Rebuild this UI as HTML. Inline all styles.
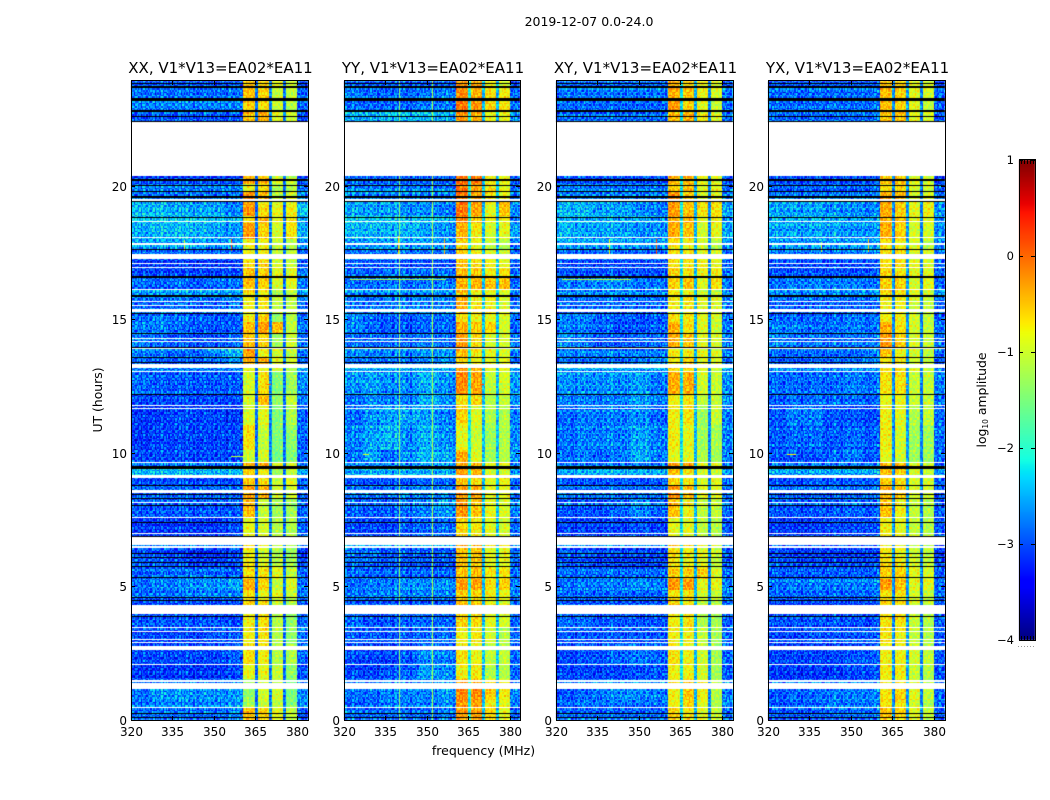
<!DOCTYPE html>
<html lang="en">
<head>
<meta charset="utf-8">
<title>2019-12-07 amplitude waterfall</title>
<style>
html,body{margin:0;padding:0;background:#fff;width:1050px;height:800px;overflow:hidden}
#figure{position:relative;width:1050px;height:800px;font-family:"DejaVu Sans","Liberation Sans",sans-serif;color:#000}
canvas{position:absolute;left:0;top:0}
svg{position:absolute;left:0;top:0}
svg text{font-family:"DejaVu Sans","Liberation Sans",sans-serif;fill:#000}
</style>
</head>
<body>
<div id="figure">
<canvas id="heat" width="1050" height="800"></canvas>
<svg id="axes" width="1050" height="800" viewBox="0 0 1050 800">
<text x="589" y="26" font-size="12.5" text-anchor="middle">2019-12-07 0.0-24.0</text>
<text x="483.5" y="755" font-size="12.5" text-anchor="middle">frequency (MHz)</text>
<text transform="translate(102,400) rotate(-90)" font-size="12.4" text-anchor="middle">UT (hours)</text>
<text transform="translate(986,400) rotate(-90)" font-size="12.4" text-anchor="middle">log<tspan font-size="7.5" dy="2">10</tspan><tspan dy="-2"> amplitude</tspan></text>
</svg>
</div>
<script>
// ---- axis values -------------------------------------------------------
const xTicks = [320, 335, 350, 365, 380];
const yTicks = [0, 5, 10, 15, 20];
const colorbarTicks = [1, 0, -1, -2, -3, -4];
const panelTitles = ["XX, V1*V13=EA02*EA11", "YY, V1*V13=EA02*EA11", "XY, V1*V13=EA02*EA11", "YX, V1*V13=EA02*EA11"];

// ---- frequency blocks (MHz) and time rows (UT hours) ---------------------
const freqEdges = [320, 327, 333, 340, 347, 354, 360.5, 365, 366, 370, 371, 375, 376, 380, 384];
const timeEdges = [0,.43,.73,1.14,1.48,2.04,2.79,3.43,3.99,4.48,4.85,5.30,5.75,6.46,6.87,7.55,8.26,8.75,9.08,9.42,9.61,10.09,11.03,11.74,12.19,13.02,13.21,13.54,13.91,14.44,14.89,15.26,15.86,16.12,16.61,16.91,17.25,17.62,18.03,18.63,18.82,19.46,19.79,20.02,20.37,22.38,22.79,23.24,23.65,23.92];

// ---- log10 amplitude x10, one row per time row (bottom to top) ----------
// columns: six low-frequency blocks, then band1..band4 and the top block
const levelsXX = [
[-28,-28,-28,-28,-28,-27,-5,-6,-9,-11,-30],[-28,-27,-27,-27,-27,-26,-13,-11,-12,-15,-27],[-28,-26,-26,-26,-26,-26,-14,-10,-10,-15,-27],[-28,-27,-27,-27,-27,-27,-13,-10,-11,-15,-28],
[-31,-31,-31,-31,-31,-30,-9,-9,-11,-14,-30],[-30,-30,-30,-30,-30,-29,-7,-8,-12,-12,-29],[-30,-30,-30,-30,-29,-29,-8,-7,-12,-14,-28],[-29,-29,-29,-29,-29,-30,-8,-7,-12,-14,-29],
[-30,-30,-30,-30,-30,-30,-6,-7,-11,-12,-30],[-28,-28,-28,-27,-27,-27,-7,-9,-9,-11,-28],[-28,-27,-27,-26,-26,-25,-4,-6,-11,-9,-28],[-29,-28,-28,-28,-28,-29,-7,-7,-9,-11,-29],
[-29,-29,-30,-31,-31,-30,-8,-10,-12,-13,-31],[-27,-27,-27,-27,-27,-27,-7,-8,-11,-12,-28],[-31,-31,-31,-31,-31,-30,-9,-10,-12,-12,-29],[-29,-29,-29,-29,-29,-29,-5,-11,-13,-13,-29],
[-28,-28,-28,-28,-28,-28,-3,-4,-10,-10,-29],[-30,-30,-30,-30,-30,-30,-6,-7,-11,-9,-29],[-24,-24,-24,-24,-24,-24,-6,-8,-13,-11,-25],[-27,-27,-27,-27,-27,-27,-4,-3,-9,-9,-28],
[-30,-30,-30,-30,-30,-30,-11,-10,-16,-15,-29],[-31,-30,-30,-30,-30,-30,-7,-11,-15,-14,-29],[-31,-31,-30,-30,-30,-31,-10,-9,-15,-12,-29],[-30,-30,-30,-30,-30,-30,-10,-5,-14,-11,-28],
[-28,-29,-29,-29,-29,-29,-10,-7,-15,-13,-27],[-27,-27,-27,-27,-27,-27,-9,-9,-10,-12,-26],[-28,-29,-29,-29,-28,-26,-4,-4,-9,-10,-29],[-27,-27,-28,-28,-26,-24,-3,-8,-10,-11,-28],
[-27,-28,-29,-29,-29,-28,-5,-6,-13,-10,-28],[-27,-27,-28,-29,-29,-29,-5,-3,-5,-11,-28],[-28,-27,-28,-28,-29,-29,-8,-6,-14,-12,-29],[-28,-28,-27,-28,-28,-27,-8,-7,-11,-11,-28],
[-26,-26,-26,-26,-26,-26,-7,-9,-13,-12,-27],[-28,-29,-28,-29,-28,-28,-5,-6,-10,-9,-28],[-30,-30,-30,-30,-30,-30,-5,-6,-9,-9,-28],[-31,-31,-31,-31,-31,-31,-7,-6,-10,-11,-30],
[-28,-28,-28,-28,-28,-28,-8,-8,-11,-11,-29],[-25,-25,-25,-25,-26,-25,-8,-8,-11,-12,-27],[-25,-24,-24,-24,-25,-26,-3,-6,-10,-7,-25],[-23,-23,-23,-23,-23,-24,-7,-4,-9,-7,-26],
[-24,-24,-25,-25,-25,-27,-3,-7,-9,-8,-24],[-28,-28,-28,-28,-28,-28,-3,-5,-12,-10,-27],[-27,-27,-27,-27,-27,-27,-9,-7,-13,-12,-29],[-30,-30,-30,-30,-30,-30,-4,-5,-10,-11,-31],
[-30,-30,-30,-30,-30,-30,-30,-30,-30,-30,-30],[-29,-29,-29,-29,-29,-29,-5,-4,-9,-10,-30],[-27,-27,-27,-27,-27,-27,-6,-7,-11,-12,-29],[-28,-28,-28,-28,-28,-28,-5,-6,-11,-11,-29],[-29,-29,-29,-29,-29,-29,-5,-6,-9,-10,-31]];

const levelsYY = [
[-28,-28,-28,-28,-28,-27,-3,-3,-6,-9,-29],[-29,-28,-27,-27,-27,-26,-3,-3,-8,-9,-28],[-28,-28,-27,-27,-27,-26,-2,-2,-6,-8,-28],[-28,-28,-27,-27,-27,-26,-3,-3,-7,-9,-28],
[-30,-30,-29,-28,-25,-26,-8,-7,-12,-12,-29],[-30,-30,-30,-29,-26,-27,-7,-8,-11,-11,-29],[-29,-29,-29,-29,-28,-28,-8,-7,-10,-12,-29],[-28,-29,-29,-28,-28,-28,-6,-6,-9,-10,-29],
[-29,-29,-29,-29,-29,-29,-5,-5,-8,-9,-29],[-28,-27,-27,-27,-27,-27,-6,-6,-8,-9,-28],[-28,-27,-27,-26,-26,-26,-3,-3,-7,-6,-28],[-28,-28,-28,-28,-28,-28,-5,-4,-7,-7,-28],
[-28,-28,-29,-29,-29,-29,-5,-5,-9,-9,-29],[-26,-26,-26,-26,-26,-26,-4,-4,-8,-9,-27],[-30,-30,-30,-29,-28,-28,-6,-7,-9,-10,-29],[-29,-29,-29,-28,-27,-26,-3,-5,-9,-10,-28],
[-28,-28,-28,-27,-27,-27,-3,-3,-9,-9,-29],[-29,-29,-29,-29,-28,-28,-5,-6,-9,-8,-29],[-25,-24,-24,-24,-24,-24,-3,-4,-10,-10,-26],[-27,-27,-27,-27,-26,-26,-4,-4,-9,-9,-28],
[-28,-25,-28,-26,-24,-25,-4,-9,-13,-12,-27],[-27,-25,-24,-26,-24,-26,-9,-10,-13,-12,-27],[-28,-26,-25,-25,-25,-27,-6,-9,-12,-12,-28],[-28,-26,-27,-27,-24,-26,-7,-6,-12,-11,-27],
[-26,-25,-26,-26,-24,-26,-2,-3,-11,-10,-26],[-25,-25,-25,-25,-25,-25,-3,-4,-9,-9,-27],[-28,-28,-28,-28,-27,-26,-6,-8,-9,-9,-29],[-27,-27,-27,-27,-26,-26,-5,-7,-9,-10,-28],
[-28,-28,-28,-28,-27,-28,-3,-6,-10,-10,-28],[-27,-28,-29,-29,-28,-28,-4,-5,-6,-10,-29],[-27,-28,-29,-29,-28,-28,-7,-8,-9,-10,-29],[-28,-28,-27,-27,-27,-27,-4,-7,-8,-10,-29],
[-26,-26,-26,-26,-26,-26,-5,-8,-9,-10,-28],[-28,-28,-27,-28,-27,-27,-4,-4,-5,-5,-29],[-29,-29,-28,-28,-28,-28,-5,-5,-8,-7,-29],[-29,-29,-29,-30,-30,-30,-5,-6,-8,-9,-30],
[-27,-27,-27,-27,-27,-27,-5,-7,-9,-10,-28],[-26,-25,-25,-25,-25,-26,-6,-8,-11,-12,-28],[-24,-24,-24,-24,-25,-26,-4,-7,-10,-9,-26],[-23,-23,-23,-23,-23,-24,-2,-5,-8,-8,-28],
[-25,-25,-25,-26,-26,-27,-1,-3,-9,-5,-27],[-26,-26,-26,-26,-26,-26,-1,-3,-6,-8,-28],[-27,-27,-27,-27,-27,-27,-1,-3,-7,-9,-29],[-29,-29,-29,-29,-29,-29,-1,-1,-8,-9,-30],
[-30,-30,-30,-30,-30,-30,-30,-30,-30,-30,-30],[-25,-25,-24,-24,-24,-25,-3,-4,-9,-9,-27],[-28,-28,-28,-28,-27,-27,-1,-2,-6,-7,-28],[-27,-28,-28,-28,-27,-27,-2,-4,-7,-8,-29],[-29,-29,-29,-29,-29,-29,-3,-3,-8,-10,-31]];

const levelsXY = [
[-28,-28,-28,-28,-28,-28,-6,-7,-9,-11,-29],[-28,-27,-27,-27,-27,-27,-8,-6,-9,-12,-27],[-29,-28,-27,-26,-26,-27,-8,-5,-8,-12,-28],[-29,-28,-27,-27,-27,-27,-8,-6,-9,-13,-28],
[-30,-30,-30,-30,-29,-29,-8,-8,-10,-13,-30],[-30,-29,-29,-28,-27,-28,-7,-8,-10,-13,-29],[-29,-29,-29,-29,-29,-29,-8,-8,-11,-13,-29],[-28,-28,-29,-29,-29,-29,-8,-7,-12,-13,-30],
[-29,-29,-29,-29,-29,-29,-6,-7,-11,-12,-29],[-28,-28,-28,-28,-28,-28,-7,-7,-10,-11,-28],[-28,-27,-27,-27,-26,-27,-3,-3,-9,-9,-28],[-28,-28,-28,-28,-28,-28,-6,-6,-6,-10,-29],
[-29,-29,-30,-30,-30,-30,-7,-8,-9,-11,-30],[-27,-27,-27,-27,-27,-27,-6,-7,-10,-11,-28],[-30,-30,-30,-30,-29,-30,-9,-9,-11,-12,-30],[-29,-29,-29,-28,-26,-28,-5,-8,-11,-11,-29],
[-28,-28,-28,-28,-28,-28,-3,-5,-9,-10,-29],[-29,-29,-29,-29,-29,-29,-6,-7,-10,-9,-29],[-25,-24,-24,-24,-24,-24,-5,-7,-10,-11,-26],[-27,-27,-27,-27,-27,-27,-3,-3,-9,-9,-28],
[-28,-27,-28,-27,-24,-27,-9,-9,-12,-13,-28],[-28,-27,-27,-27,-25,-27,-8,-9,-13,-13,-28],[-28,-27,-27,-27,-26,-28,-8,-7,-13,-11,-28],[-27,-27,-27,-27,-25,-27,-8,-7,-11,-11,-27],
[-26,-26,-26,-26,-25,-27,-4,-4,-10,-11,-27],[-25,-25,-25,-25,-25,-25,-7,-7,-9,-11,-26],[-28,-28,-28,-28,-27,-26,-8,-6,-9,-10,-29],[-27,-27,-27,-27,-27,-27,-8,-8,-9,-10,-28],
[-26,-27,-29,-29,-28,-28,-4,-5,-9,-10,-28],[-27,-27,-28,-29,-29,-28,-4,-7,-9,-11,-28],[-27,-27,-28,-29,-29,-29,-7,-7,-9,-10,-29],[-28,-28,-28,-28,-28,-28,-8,-7,-9,-10,-28],
[-26,-26,-26,-26,-26,-26,-7,-8,-10,-11,-27],[-27,-27,-26,-26,-27,-27,-6,-5,-9,-7,-28],[-29,-29,-29,-29,-29,-29,-6,-7,-8,-8,-28],[-30,-30,-30,-30,-30,-30,-7,-7,-8,-9,-30],
[-28,-28,-28,-28,-28,-28,-7,-7,-9,-10,-29],[-25,-25,-25,-25,-25,-25,-7,-8,-10,-12,-27],[-24,-25,-25,-25,-26,-26,-4,-5,-10,-9,-26],[-24,-24,-24,-24,-24,-25,-4,-4,-9,-8,-27],
[-24,-24,-25,-25,-26,-27,-3,-5,-7,-7,-26],[-26,-26,-26,-26,-26,-26,-2,-5,-9,-9,-27],[-27,-27,-27,-27,-27,-27,-6,-5,-9,-9,-29],[-29,-29,-29,-29,-29,-29,-4,-4,-8,-9,-30],
[-30,-30,-30,-30,-30,-30,-30,-30,-30,-30,-30],[-28,-28,-28,-28,-28,-28,-5,-4,-8,-10,-29],[-28,-28,-28,-28,-28,-28,-3,-6,-9,-11,-29],[-27,-27,-27,-27,-27,-27,-4,-5,-8,-10,-28],[-28,-28,-28,-28,-28,-28,-4,-6,-8,-10,-30]];

const levelsYX = [
[-29,-29,-29,-28,-28,-28,-5,-6,-9,-11,-30],[-29,-28,-28,-27,-27,-27,-7,-7,-10,-12,-29],[-29,-28,-28,-27,-27,-27,-7,-6,-9,-11,-29],[-29,-28,-28,-28,-28,-28,-8,-7,-10,-12,-29],
[-31,-31,-31,-31,-30,-30,-8,-8,-11,-12,-31],[-30,-30,-30,-30,-29,-29,-8,-8,-10,-11,-30],[-30,-30,-29,-29,-29,-29,-7,-8,-11,-12,-30],[-29,-29,-29,-29,-29,-30,-7,-7,-11,-12,-30],
[-30,-30,-30,-30,-30,-30,-6,-7,-10,-11,-30],[-28,-28,-28,-28,-28,-28,-7,-7,-10,-11,-29],[-28,-27,-27,-27,-27,-27,-3,-5,-9,-9,-29],[-29,-29,-29,-29,-29,-29,-6,-6,-9,-10,-30],
[-29,-30,-30,-30,-30,-30,-7,-8,-10,-11,-31],[-27,-27,-27,-27,-27,-27,-7,-7,-10,-11,-29],[-31,-31,-31,-30,-30,-30,-8,-9,-11,-12,-30],[-29,-29,-29,-29,-28,-29,-5,-8,-11,-12,-30],
[-28,-28,-28,-28,-28,-28,-4,-5,-10,-10,-30],[-30,-30,-29,-29,-29,-29,-6,-7,-10,-10,-30],[-25,-25,-25,-25,-25,-25,-5,-6,-10,-11,-27],[-27,-27,-27,-27,-27,-27,-4,-4,-9,-10,-29],
[-29,-29,-29,-28,-27,-29,-9,-10,-13,-13,-29],[-29,-28,-28,-29,-28,-29,-8,-10,-13,-13,-29],[-29,-27,-27,-29,-29,-30,-8,-9,-12,-11,-29],[-29,-28,-28,-28,-28,-29,-9,-9,-11,-11,-29],
[-28,-28,-28,-28,-27,-28,-7,-7,-11,-11,-28],[-26,-26,-26,-26,-26,-26,-7,-7,-9,-11,-27],[-29,-29,-28,-28,-28,-27,-7,-7,-10,-11,-30],[-28,-28,-28,-28,-28,-27,-5,-8,-10,-11,-29],
[-27,-28,-28,-28,-28,-28,-3,-6,-10,-11,-29],[-27,-27,-28,-28,-27,-28,-4,-7,-10,-11,-29],[-28,-28,-28,-28,-27,-28,-8,-8,-10,-11,-30],[-28,-28,-28,-28,-28,-28,-8,-8,-10,-11,-29],
[-27,-27,-27,-27,-27,-27,-7,-8,-10,-11,-28],[-28,-27,-27,-27,-27,-28,-6,-6,-10,-9,-29],[-29,-29,-29,-29,-29,-29,-6,-7,-9,-9,-29],[-30,-30,-30,-30,-30,-30,-7,-7,-9,-10,-30],
[-28,-28,-28,-28,-28,-28,-7,-7,-10,-10,-29],[-26,-26,-26,-26,-26,-26,-7,-8,-10,-12,-28],[-25,-25,-25,-25,-26,-26,-4,-6,-10,-10,-27],[-24,-24,-24,-24,-25,-25,-4,-5,-9,-9,-27],
[-25,-25,-25,-26,-26,-27,-4,-6,-9,-8,-27],[-27,-27,-27,-27,-27,-27,-4,-5,-10,-10,-29],[-28,-28,-28,-28,-28,-28,-7,-6,-10,-10,-30],[-29,-29,-29,-29,-29,-29,-5,-5,-9,-10,-31],
[-30,-30,-30,-30,-30,-30,-30,-30,-30,-30,-30],[-28,-28,-28,-28,-28,-28,-5,-5,-9,-10,-30],[-28,-28,-28,-28,-28,-28,-5,-6,-9,-11,-30],[-28,-28,-28,-28,-28,-28,-5,-6,-9,-10,-29],[-29,-29,-29,-29,-29,-29,-5,-6,-9,-10,-31]];

// narrow low-amplitude notches between the bands (x10), one per panel
const notchesXX = [-29, -27, -28];
const notchesYY = [-22, -24, -24];
const notchesXY = [-23, -25, -27];
const notchesYX = [-27, -26, -28];

// ---- flagged (white) and zero-amplitude (black) intervals, UT hours ------
const flaggedHours = [[.43,.47],[1.14,1.36],[1.42,1.48],[2.04,2.08],[2.60,2.77],[2.87,2.90],[2.98,3.01],[3.28,3.31],[3.43,3.46],[3.97,4.27],[6.44,6.48],[6.55,6.82],[6.95,6.98],[7.55,7.58],[8.09,8.15],[8.50,8.54],[8.58,8.61],[9.06,9.16],[9.59,9.64],[11.64,11.67],[11.74,11.77],[13.00,13.05],[13.18,13.33],[13.88,13.93],[14.12,14.16],[14.25,14.29],[15.26,15.36],[15.51,15.54],[15.62,15.67],[16.10,16.14],[16.91,16.95],[17.06,17.10],[17.23,17.42],[17.79,17.83],[18.03,18.07],[18.63,18.67],[19.42,19.48],[19.74,19.78],[20.37,22.38]];
const zeroHours = [[.07,.11],[.22,.26],[3.84,3.88],[4.44,4.48],[4.55,4.59],[5.30,5.34],[5.71,5.75],[5.86,5.90],[6.05,6.09],[6.20,6.24],[6.84,6.89],[7.36,7.40],[8.00,8.03],[8.26,8.31],[8.41,8.45],[8.75,8.78],[9.40,9.49],[12.15,12.19],[13.35,13.39],[13.54,13.58],[13.91,13.95],[14.44,14.48],[15.21,15.24],[15.84,15.90],[16.55,16.61],[17.58,17.64],[18.78,18.82],[19.38,19.42],[19.55,19.59],[19.78,19.81],[19.98,20.02],[20.17,20.24],[22.38,22.42],[22.55,22.62],[22.77,22.81],[23.18,23.26],[23.67,23.73],[23.80,23.84]];

// ---- interference: [panel, MHz, hour start, hour end, log10 amplitude] ---
const rfiColumns = [
[0,339,17.55,17.95,-0.9],[0,356.2,17.55,18.0,0.1],
[1,340,0,23.92,-1.4],[1,351.8,0,23.92,-1.2],[1,339.4,17.4,18.1,-0.5],[1,356.2,17.4,18.0,-0.4],
[2,339.2,17.4,18.0,-0.8],[2,356.2,17.4,18.0,0.2],
[3,339.2,17.5,17.9,-0.9],[3,356.2,17.5,18.0,-0.6]];
// [panel, UT hour, MHz start, MHz end, log10 amplitude]
const rfiRows = [
[0,13.07,320,334,-0.3],[0,13.07,334,360.5,-1.0],[0,12.56,369,370.5,0.1],[0,9.87,356,360.5,-1.1],
[1,13.07,320,360.5,-1.5],[1,12.56,369,370.5,0.1],[1,9.95,327,329,-0.9],[1,16.5,322,357,-1.2],
[2,13.07,320,335,-0.5],[2,13.07,335,360.5,-1.0],[2,12.56,369,370.5,0.0],[2,16.5,322,347,-1.1],
[3,9.95,327,330,-0.7],[3,13.07,320,360.5,-1.7],[3,12.56,369,370.5,-0.4]];

// ---- estimated channel and integration scatter (0-9 scale) ---------------
const channelScatter = [4,7,2,5,8,3,6,1,5,9,4,2,7,5,3,8,6,2,4,7,1,5,8,3,6,4,9,2,5,7,3];
const integrationScatter = [5,2,7,4,8,1,6,3,9,5,2,6,4,7,3,8,5,1,6,9,2,4,7,5,3,8,2,6,4,9,1,5,7,3,6,2,8];
const scatterTile = [
"3816502974163850927","7249168350627194835","0583726149380571264","9162847053916248705",
"4730195682471039586","8295361407852963140","1647082935164708293","6059413728609341752",
"2971856043297185604","5308624197530862419","8146970352814697035","3682059174368205917",
"7495318260749531826","0827146593082714659","4169702835416970283","9530287416953028741","2718495063271849506"];

// ---- frames and scales ----------------------------------------------------
const panelLeft = [131, 344, 556, 768];
const panelRight = [308, 520, 733, 945];
const plotTop = 81, plotBottom = 720;
const levelsByPanel = [levelsXX, levelsYY, levelsXY, levelsYX];
const notchesByPanel = [notchesXX, notchesYY, notchesXY, notchesYX];
const xScale = (p, f) => panelLeft[p] + (f - 320) * 2.766;
const yScale = h => 719.5 - h * 26.7;

function jetChannel(t, pts) {
  for (let i = 1; i < pts.length; i++) {
    if (t <= pts[i][0]) {
      const a = pts[i - 1], b = pts[i];
      return a[1] + (b[1] - a[1]) * (t - a[0]) / (b[0] - a[0]);
    }
  }
  return pts[pts.length - 1][1];
}
function jet(v) {
  const t = Math.max(0, Math.min(1, (v + 4) / 5));
  const r = jetChannel(t, [[0,0],[.35,0],[.66,1],[.89,1],[1,.5]]);
  const g = jetChannel(t, [[0,0],[.125,0],[.375,1],[.64,1],[.91,0],[1,0]]);
  const b = jetChannel(t, [[0,.5],[.11,1],[.34,1],[.65,0],[1,0]]);
  return "rgb(" + Math.round(r * 255) + "," + Math.round(g * 255) + "," + Math.round(b * 255) + ")";
}
function findBlock(edges, value) {
  for (let i = 0; i < edges.length - 1; i++) if (value < edges[i + 1]) return i;
  return edges.length - 2;
}
// map a frequency block to its value in a row: 6 low blocks, bands, notches
function cellLevel(p, row, block) {
  const r = levelsByPanel[p][row], n = notchesByPanel[p];
  if (block <= 5) return r[block] - 1;
  if (block === 6) return r[6];
  if (block === 7) return n[0];
  if (block === 8) return r[7];
  if (block === 9) return n[1];
  if (block === 10) return r[8];
  if (block === 11) return n[2];
  if (block === 12) return r[9];
  return r[10];
}

// ---- draw heatmaps --------------------------------------------------------
const ctx = document.getElementById("heat").getContext("2d");
const channelStep = 0.5, integrationStep = 0.06;
for (let p = 0; p < 4; p++) {
  const nCh = Math.round(64 / channelStep);
  const nT = Math.ceil(23.92 / integrationStep);
  for (let ci = 0; ci < nCh; ci++) {
    const f0 = 320 + ci * channelStep;
    const block = findBlock(freqEdges, f0 + channelStep / 2);
    const x0 = Math.round(xScale(p, f0));
    const x1 = Math.min(panelRight[p], Math.round(xScale(p, f0 + channelStep)));
    const amp = (block >= 6 && block <= 12) ? 0.6 : 1;
    for (let ti = 0; ti < nT; ti++) {
      const h0 = ti * integrationStep;
      const row = findBlock(timeEdges, h0 + integrationStep / 2);
      const base = cellLevel(p, row, block) / 10;
      const tileRow = scatterTile[(ti + p * 5) % scatterTile.length];
      const tile = +tileRow[(ci + p * 7) % tileRow.length];
      const cs = channelScatter[(ci + p * 3) % channelScatter.length];
      const ts = integrationScatter[(ti + p * 11) % integrationScatter.length];
      const v = base + amp * ((tile - 4.5) * 0.11 + (cs - 4.5) * 0.045 + (ts - 4.5) * 0.04);
      const y1 = Math.round(yScale(h0));
      const y0 = Math.max(plotTop, Math.round(yScale(h0 + integrationStep)));
      ctx.fillStyle = jet(v);
      ctx.fillRect(x0, y0, x1 - x0, y1 - y0);
    }
  }
  rfiColumns.filter(d => d[0] === p).forEach(d => {
    ctx.fillStyle = jet(d[4]);
    const y0 = Math.round(yScale(d[3])), y1 = Math.round(yScale(d[2]));
    ctx.fillRect(Math.round(xScale(p, d[1])), Math.max(plotTop, y0), 1, y1 - Math.max(plotTop, y0));
  });
  rfiRows.filter(d => d[0] === p).forEach(d => {
    ctx.fillStyle = jet(d[4]);
    const x0 = Math.round(xScale(p, d[2])), x1 = Math.round(xScale(p, d[3]));
    ctx.fillRect(x0, Math.round(yScale(d[1])), x1 - x0, 1);
  });
  const fullX0 = panelLeft[p], fullW = panelRight[p] - panelLeft[p];
  const strip = (list, color) => {
    ctx.fillStyle = color;
    list.forEach(d => {
      const top = Math.round(yScale(d[1]));
      const hgt = Math.max(1, Math.round(yScale(d[0])) - top);
      ctx.fillRect(fullX0, top, fullW, hgt);
    });
  };
  strip(flaggedHours, "#fff");
  strip(zeroHours, "#000");
}

// ---- draw colorbar --------------------------------------------------------
const cbLeft = 1019, cbRight = 1035, cbTop = 160, cbBottom = 640;
const cbY = v => cbBottom - (v + 4) / 5 * (cbBottom - cbTop);
for (let y = cbTop; y < cbBottom; y++) {
  ctx.fillStyle = jet(-4 + (cbBottom - y - 0.5) / (cbBottom - cbTop) * 5);
  ctx.fillRect(cbLeft, y, cbRight - cbLeft, 1);
}

// ---- axes, ticks and labels ----------------------------------------------
const svg = document.getElementById("axes");
const NS = "http://www.w3.org/2000/svg";
function addLine(x1, y1, x2, y2, name) {
  const el = document.createElementNS(NS, "line");
  el.setAttribute("x1", x1);
  el.setAttribute("y1", y1);
  el.setAttribute("x2", x2);
  el.setAttribute("y2", y2);
  el.setAttribute("stroke", "#000");
  el.setAttribute("stroke-width", "1");
  
  
  svg.appendChild(el);
}
function addText(x, y, str, size, anchor, name) {
  const el = document.createElementNS(NS, "text");
  el.setAttribute("x", x);
  el.setAttribute("y", y);
  el.setAttribute("font-size", size);
  el.setAttribute("text-anchor", anchor);
  el.textContent = str;
  
  
  svg.appendChild(el);
}
function addFrame(x0, y0, x1, y1, name) {
  const el = document.createElementNS(NS, "rect");
  el.setAttribute("x", x0 + 0.5);
  el.setAttribute("y", y0 - 0.5);
  el.setAttribute("width", x1 - x0);
  el.setAttribute("height", y1 - y0 + 1);
  el.setAttribute("fill", "none");
  el.setAttribute("stroke", "#000");
  el.setAttribute("stroke-width", "1");
  
  
  svg.appendChild(el);
}
for (let p = 0; p < 4; p++) {
  const L = panelLeft[p], R = panelRight[p];
  addFrame(L, plotTop, R, plotBottom, "panel-frame-" + (p + 1));
  addText((L + R) / 2 + 1, 73, panelTitles[p], 15, "middle", "panel-title-" + (p + 1));
  xTicks.forEach(t => {
    const x = Math.round(xScale(p, t)) + 0.5;
    addLine(x, plotBottom, x, plotBottom - 4, "x-tick-bottom");
    addLine(x, plotTop, x, plotTop + 4, "x-tick-top");
    addText(Math.round(xScale(p, t)) + 0.5, 736, String(t), 12, "middle", "x-tick-label");
  });
  yTicks.forEach(t => {
    const y = Math.round(yScale(t)) + 0.5;
    addLine(L, y, L + 4, y, "y-tick-left");
    addLine(R, y, R - 4, y, "y-tick-right");
    addText(L - 4, Math.round(yScale(t)) + 5, String(t), 12, "end", "y-tick-label");
  });
}
addFrame(cbLeft, cbTop, cbRight, cbBottom, "colorbar-frame");
colorbarTicks.forEach(v => {
  const y = Math.round(cbY(v)) + 0.5;
  addLine(cbLeft, y, cbLeft + 4, y, "colorbar-tick-left");
  addLine(cbRight, y, cbRight - 4, y, "colorbar-tick-right");
  addText(1014, Math.round(cbY(v)) + 4, String(v).replace("-", "\u2212"), 11.5, "end", "colorbar-tick-label");
});
for (let i = 0; i < 5; i++) {
  const x = cbLeft + 2.5 + i * 3;
  addLine(x, cbTop, x, cbTop + 4, "colorbar-minor-tick-top");
  addLine(x, cbBottom, x, cbBottom - 4, "colorbar-minor-tick-bottom");
}
for (let i = 0; i < 6; i++) {
  const dot = document.createElementNS(NS, "rect");
  dot.setAttribute("x", 1018 + i * 3);
  dot.setAttribute("y", 646);
  dot.setAttribute("width", 1);
  dot.setAttribute("height", 1);
  dot.setAttribute("fill", "#999");
  
  
  svg.appendChild(dot);
}
</script>
</body>
</html>
